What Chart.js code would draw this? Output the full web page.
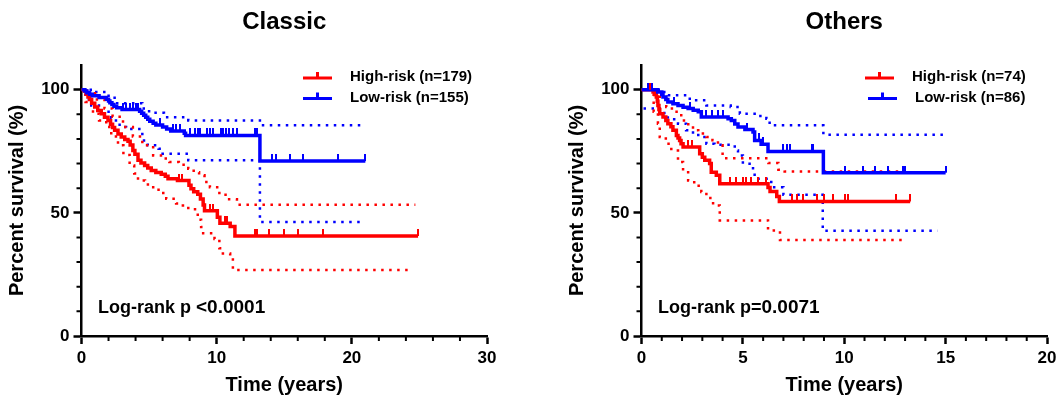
<!DOCTYPE html>
<html>
<head>
<meta charset="utf-8">
<script src="https://cdn.jsdelivr.net/npm/chart.js@4.4.1/dist/chart.umd.min.js"></script>
<style>
  html, body { margin: 0; padding: 0; background: #fff; }
  #wrap { position: relative; width: 1063px; height: 413px; }
  canvas { position: absolute; top: 0; }
  #cLeft { left: 0; }
  #cRight { left: 560px; }
</style>
</head>
<body>
<div id="wrap">
  <canvas id="cLeft" width="531" height="413"></canvas>
  <canvas id="cRight" width="503" height="413"></canvas>
</div>
<script>
const RED = '#ff0000', BLUE = '#0000ff';
const FONT = '"Liberation Sans", Arial, sans-serif';

// ---------- Classic ----------
const classicLabels = ['High-risk (n=179)', 'Low-risk (n=155)'];
const classicP = ['Log-rank p ', '<0.0001'];

const classicHighT = [0, 0.2, 0.35, 0.48, 0.6, 0.75, 0.98, 1.2, 1.46, 1.7, 1.96, 2.15, 2.3, 2.45, 2.7, 2.94, 3.2, 3.44, 3.6, 3.8, 3.95, 4.18, 4.4, 4.67, 4.9, 5.16, 5.5, 5.9, 6.2, 6.4, 7.1, 7.95, 8.1, 8.3, 8.6, 8.8, 9.0, 9.1, 10.05, 10.24, 11.0, 11.35, 24.9];
const classicHighS = [100, 99.4, 98.3, 97.0, 96.0, 94.5, 93.0, 91.5, 90.2, 88.8, 87.5, 86.0, 84.6, 83.5, 82.0, 80.8, 79.8, 79.0, 77.5, 75.3, 73.8, 71.3, 70.2, 69.2, 68.2, 67.2, 66.4, 65.7, 64.8, 63.8, 63.1, 61.2, 59.8, 58.6, 57.5, 55.6, 53.2, 50.8, 48.2, 45.8, 44.4, 40.6, 40.6];
const classicHighCens = [7.2, 7.4, 9.5, 9.7, 10.6, 10.8, 12.8, 13.0, 13.9, 15.0, 16.0, 17.9, 24.9];
const classicHighUpT = [0, 0.5, 1.0, 1.7, 2.3, 3.07, 3.8, 4.5, 5.3, 6.0, 6.5, 7.2, 7.9, 8.3, 8.7, 9.1, 9.5, 10.2, 10.8, 11.5, 24.7];
const classicHighUpS = [100, 99, 96, 92.3, 89, 84.8, 81, 77.4, 73.3, 72, 70.6, 69.5, 67.9, 66.5, 65.2, 62.5, 60.4, 57.3, 55.5, 53.3, 53.3];
const classicHighLoT = [0, 0.3, 0.85, 1.3, 1.83, 2.2, 2.7, 3.1, 3.56, 3.9, 4.18, 4.7, 5.16, 5.7, 6.27, 7.0, 7.5, 7.9, 8.6, 8.85, 9.0, 9.84, 10.2, 10.46, 11.0, 11.2, 24.4];
const classicHighLoS = [100, 95, 90.2, 87.5, 84.8, 81, 77.4, 73.5, 69.2, 66, 63.1, 61.5, 60.4, 58, 55.7, 53.8, 53.0, 51.4, 47.2, 44.2, 41.7, 39.4, 35.6, 33.5, 32.2, 26.8, 26.8];

const classicLowT = [0, 0.25, 0.4, 0.6, 0.8, 1.3, 1.85, 2.0, 2.1, 2.25, 2.4, 2.6, 3.0, 4.3, 4.45, 4.6, 4.75, 4.9, 5.05, 5.3, 5.5, 6.0, 6.3, 6.6, 7.6, 7.7, 13.2, 21.0];
const classicLowS = [100, 99.4, 98.7, 98.1, 97.5, 96.8, 96.1, 95.4, 94.7, 94.0, 93.3, 92.6, 91.9, 91.2, 90.4, 89.6, 88.8, 88.0, 87.2, 86.4, 85.6, 84.8, 84.0, 83.2, 82.3, 81.4, 71.0, 71.0];
const classicLowCens = [3.1, 3.3, 3.6, 3.8, 4.0, 4.2, 5.8, 6.8, 7.0, 7.3, 8.0, 8.4, 8.6, 8.8, 9.3, 9.5, 9.7, 10.3, 10.5, 10.7, 10.9, 11.2, 11.5, 12.8, 13.0, 14.1, 14.4, 15.4, 16.4, 18.95, 21.0];
const classicLowUpT = [0, 1.0, 1.8, 2.45, 4.5, 5.0, 6.1, 7.9, 13.2, 20.8];
const classicLowUpS = [100, 99, 97.5, 94.5, 92.3, 90.6, 88.8, 87.5, 85.5, 85.5];
const classicLowLoT = [0, 0.3, 0.72, 1.5, 2.2, 2.45, 2.82, 3.3, 4.5, 4.9, 5.7, 6.0, 7.9, 13.2, 20.8];
const classicLowLoS = [100, 96, 93.6, 91, 88.5, 87.5, 84.8, 84, 79.4, 77.4, 76, 74, 71.3, 46.3, 46.3];

// ---------- Others ----------
const othersLabels = ['High-risk (n=74)', 'Low-risk (n=86)'];
const othersP = ['Log-rank p=', '0.0071'];

const othersHighT = [0, 0.57, 0.65, 0.73, 0.78, 0.81, 0.86, 0.9, 1.06, 1.2, 1.3, 1.45, 1.55, 1.72, 1.8, 1.88, 1.95, 2.05, 2.87, 3.0, 3.12, 3.36, 3.44, 3.69, 3.86, 6.24, 6.34, 6.67, 6.8, 13.25];
const othersHighS = [100, 99, 98, 97, 95.3, 93.6, 91.9, 90.2, 88.9, 87.5, 86.2, 84.9, 83.5, 81.4, 80.4, 79.4, 78.0, 76.7, 74.0, 72.6, 71.3, 70.0, 66.5, 65.2, 61.8, 60.3, 58.7, 56.6, 54.6, 54.6];
const othersHighCens = [0.4, 2.3, 2.5, 4.35, 4.68, 5.0, 5.17, 5.42, 5.75, 6.16, 7.41, 7.66, 7.98, 8.64, 9.0, 9.46, 10.04, 10.2, 12.56, 13.25];
const othersHighUpT = [0, 0.6, 0.9, 1.22, 1.5, 1.96, 2.2, 2.54, 2.8, 3.2, 3.5, 3.77, 4.0, 6.26, 6.75, 7.06, 13.0];
const othersHighUpS = [100, 99, 96.5, 93, 91, 87.5, 86, 83.5, 82.2, 80.8, 79.5, 77.4, 72.2, 70.2, 67.5, 66.8, 66.8];
const othersHighLoT = [0, 0.6, 0.81, 0.9, 1.2, 1.47, 1.8, 2.05, 2.3, 2.6, 2.95, 3.2, 3.53, 3.86, 6.24, 6.83, 12.98];
const othersHighLoS = [100, 91, 86.2, 80.8, 78, 75.3, 70.6, 67, 63.1, 61, 58.4, 56, 53, 46.9, 42.8, 39.0, 39.0];

const othersLowT = [0, 0.8, 1.0, 1.06, 1.2, 1.3, 1.55, 1.8, 2.05, 2.3, 2.55, 2.8, 2.95, 4.27, 4.43, 4.6, 4.76, 5.1, 5.5, 5.58, 5.9, 6.24, 8.97, 15.0];
const othersLowS = [100, 99, 98, 97, 96, 95, 94.3, 93.6, 92.9, 92.3, 91.6, 91.0, 88.9, 88.2, 87.5, 86.1, 84.8, 83.8, 82.8, 79.4, 77.8, 74.9, 66.3, 66.3];
const othersLowCens = [0.3, 0.5, 1.6, 2.4, 3.2, 3.5, 3.77, 4.0, 5.2, 5.8, 6.0, 7.0, 7.16, 7.33, 8.4, 8.48, 10.04, 10.94, 11.52, 12.18, 12.92, 13.0, 15.0];
const othersLowUpT = [0, 1.0, 1.3, 2.38, 3.2, 4.4, 4.85, 5.58, 6.16, 6.32, 8.97, 14.9];
const othersLowUpS = [100, 99, 97.7, 95.7, 93.6, 93.0, 90.2, 89.3, 88.2, 85.5, 81.7, 81.7];
const othersLowLoT = [0.1, 0.9, 1.3, 1.8, 2.2, 2.54, 2.8, 3.2, 3.6, 4.6, 4.76, 5.0, 5.5, 5.58, 6.4, 7.0, 8.94, 14.6];
const othersLowLoS = [92.3, 90.5, 88, 86.2, 83.5, 82.1, 80.8, 78, 77.6, 75.3, 73.3, 69.9, 67.2, 63.8, 60.4, 57.3, 42.7, 42.7];

// ---------- helpers ----------
function pts(t, s) { return t.map((x, i) => ({ x: x, y: s[i] })); }

function survAt(t, s, x) {
    let v = s[0];
    for (let i = 0; i < t.length; i++) if (t[i] <= x) v = s[i];
    return v;
}

// small upward tick used as the censor mark
function tickMark(color) {
    const c = document.createElement('canvas');
    c.width = 2; c.height = 14;
    const g = c.getContext('2d');
    g.fillStyle = color;
    g.fillRect(0, 0, 2, 7);
    return c;
}

function curveSet(t, s, color) {
    return { type: 'line', data: pts(t, s), borderColor: color, borderWidth: 3.5, stepped: 'before',
             pointRadius: 0, fill: false, order: 1 };
}
function ciSet(t, s, color) {
    return { type: 'line', data: pts(t, s), borderColor: color, borderWidth: 2.5, borderDash: [2.5, 5.5],
             stepped: 'before', pointRadius: 0, fill: false, order: 2 };
}
function censSet(cens, t, s, color) {
    return { type: 'scatter', data: cens.map(x => ({ x: x, y: survAt(t, s, x) })),
             pointStyle: tickMark(color), pointRadius: 7, order: 0 };
}

// titles, minor ticks, legend, log-rank text
const decorPlugin = {
    id: 'decor',
    afterDraw(chart, args, o) {
        const { ctx, chartArea } = chart;
        const x = chart.scales.x, y = chart.scales.y;
        ctx.save();
        ctx.strokeStyle = '#000';
        ctx.lineWidth = 2;
        ctx.beginPath();
        for (let v = o.xMinor; v < x.max; v += o.xMinor) {
            if (Math.abs(v % o.xMajor) < 1e-6) continue;
            const px = x.getPixelForValue(v);
            ctx.moveTo(px, chartArea.bottom); ctx.lineTo(px, chartArea.bottom + 5);
        }
        for (let v = o.yMinor; v < 101; v += o.yMinor) {
            if (Math.abs(v % o.yMajor) < 1e-6) continue;
            const py = y.getPixelForValue(v);
            ctx.moveTo(chartArea.left, py); ctx.lineTo(chartArea.left - 5, py);
        }
        ctx.stroke();

        ctx.fillStyle = '#000';
        ctx.textBaseline = 'middle';
        ctx.textAlign = 'center';
        ctx.font = 'bold 24px ' + FONT;
        ctx.fillText(o.title, (chartArea.left + chartArea.right) / 2, 22);

        // legend
        ctx.textAlign = 'left';
        ctx.font = 'bold 15px ' + FONT;
        o.legend.forEach((item, i) => {
            const ly = o.legendY + i * 20.5;
            const lx = o.legendX + (item.dx || 0);
            ctx.strokeStyle = item.color;
            ctx.lineWidth = 3;
            ctx.beginPath();
            ctx.moveTo(lx, ly); ctx.lineTo(lx + 29, ly);
            ctx.moveTo(lx + 14.5, ly); ctx.lineTo(lx + 14.5, ly - 6);
            ctx.stroke();
            ctx.fillStyle = '#000';
            ctx.fillText(item.label, lx + 47, ly - 1);
        });

        // log-rank
        ctx.font = 'bold 18px ' + FONT;
        ctx.fillText(o.pText[0], o.pX, o.pY);
        const w = ctx.measureText(o.pText[0]).width;
        ctx.font = 'bold 19px ' + FONT;
        ctx.fillText(o.pText[1], o.pX + w, o.pY);
        ctx.restore();
    }
};

function makeChart(id, cfg) {
    const axisCommon = {
        border: { display: true, color: '#000', width: 2.5 },
        grid: { drawOnChartArea: false, drawTicks: true, tickLength: 8, tickWidth: 2.5, tickColor: '#000' },
        ticks: { color: '#000', font: { family: FONT, size: 17, weight: 'bold' }, padding: 4 }
    };
    return new Chart(document.getElementById(id), {
        data: { datasets: cfg.datasets },
        options: {
            responsive: false,
            animation: false,
            layout: { padding: { top: 65, right: cfg.padRight, left: 0, bottom: 0 } },
            plugins: {
                legend: { display: false },
                tooltip: { enabled: false },
                decor: cfg.decor
            },
            scales: {
                x: Object.assign({}, axisCommon, {
                    type: 'linear', min: 0, max: cfg.xMax,
                    ticks: Object.assign({}, axisCommon.ticks, { stepSize: cfg.xStep }),
                    title: { display: true, text: 'Time (years)', color: '#000',
                             font: { family: FONT, size: 20, weight: 'bold' }, padding: { top: 0, bottom: 16 } },
                    afterFit: s => { s.height = 77; }
                }),
                y: Object.assign({}, axisCommon, {
                    type: 'linear', min: 0, max: 110,
                    afterBuildTicks: s => { s.ticks = [0, 50, 100].map(v => ({ value: v })); },
                    title: { display: true, text: 'Percent survival (%)', color: '#000',
                             font: { family: FONT, size: 20, weight: 'bold' }, padding: { top: 5, bottom: 0 } },
                    afterFit: s => { s.width = 81.5; }
                })
            }
        },
        plugins: [decorPlugin]
    });
}

makeChart('cLeft', {
    xMax: 30, xStep: 10, padRight: 44,
    datasets: [
        ciSet(classicHighUpT, classicHighUpS, RED),
        ciSet(classicHighLoT, classicHighLoS, RED),
        ciSet(classicLowUpT, classicLowUpS, BLUE),
        ciSet(classicLowLoT, classicLowLoS, BLUE),
        curveSet(classicLowT, classicLowS, BLUE),
        curveSet(classicHighT, classicHighS, RED),
        censSet(classicLowCens, classicLowT, classicLowS, BLUE),
        censSet(classicHighCens, classicHighT, classicHighS, RED)
    ],
    decor: {
        title: 'Classic', xMinor: 2, xMajor: 10, yMinor: 10, yMajor: 50,
        legendX: 303, legendY: 78,
        legend: [{ label: classicLabels[0], color: RED }, { label: classicLabels[1], color: BLUE }],
        pText: classicP, pX: 98, pY: 308
    }
});

makeChart('cRight', {
    xMax: 20, xStep: 5, padRight: 16,
    datasets: [
        ciSet(othersHighUpT, othersHighUpS, RED),
        ciSet(othersHighLoT, othersHighLoS, RED),
        ciSet(othersLowUpT, othersLowUpS, BLUE),
        ciSet(othersLowLoT, othersLowLoS, BLUE),
        curveSet(othersLowT, othersLowS, BLUE),
        curveSet(othersHighT, othersHighS, RED),
        censSet(othersLowCens, othersLowT, othersLowS, BLUE),
        censSet(othersHighCens, othersHighT, othersHighS, RED)
    ],
    decor: {
        title: 'Others', xMinor: 1, xMajor: 5, yMinor: 10, yMajor: 50,
        legendX: 305, legendY: 78,
        legend: [{ label: othersLabels[0], color: RED }, { label: othersLabels[1], color: BLUE, dx: 3 }],
        pText: othersP, pX: 98, pY: 308
    }
});
</script>
</body>
</html>
